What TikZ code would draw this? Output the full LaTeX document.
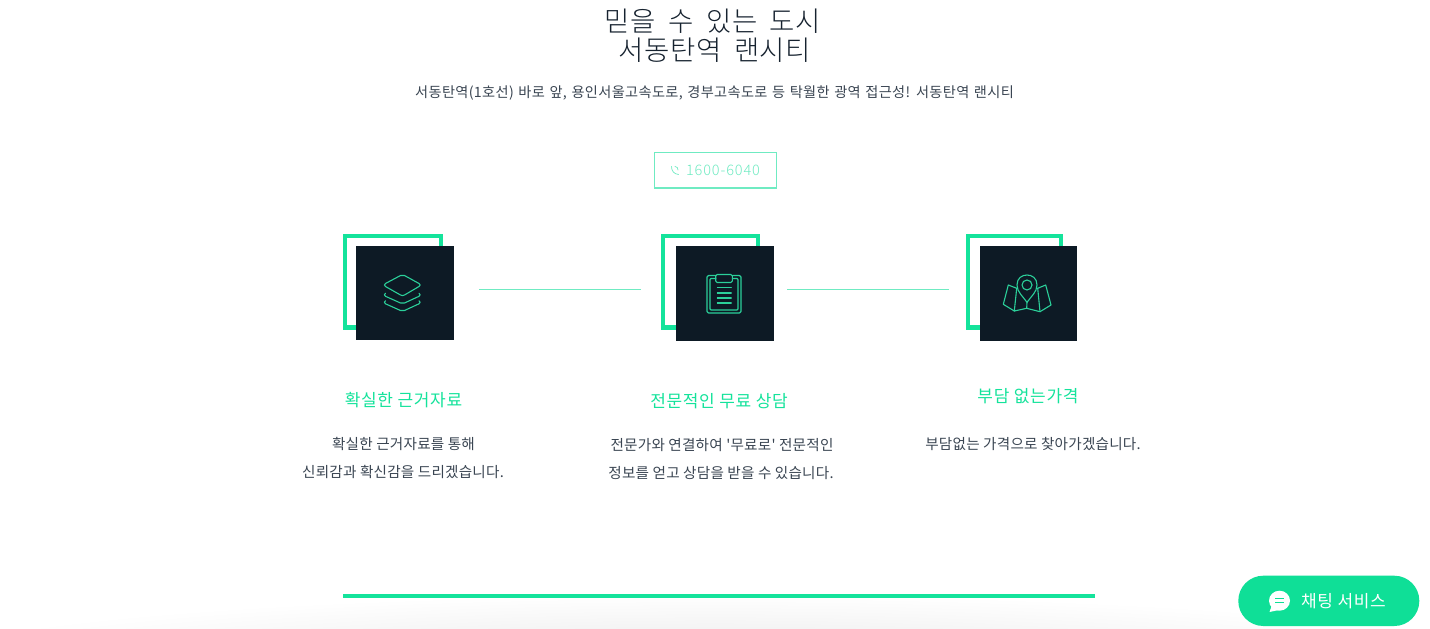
\documentclass[tikz,border=0pt]{standalone}
\usepackage{fontspec}
\setmainfont{Noto Sans CJK KR}
\newfontfamily\titlef[LetterSpace=1.8,WordSpace=1.9]{Noto Sans CJK KR Light}
\newfontfamily\subf[LetterSpace=2.5,WordSpace=1.3]{Noto Sans CJK KR}
\newfontfamily\headf[LetterSpace=4]{Noto Sans CJK KR}
\newfontfamily\bodyf[LetterSpace=1.5]{Noto Sans CJK KR}
\newfontfamily\telf[LetterSpace=6]{Noto Sans CJK KR Light}
\definecolor{mint}{HTML}{14E39B}
\definecolor{navy}{HTML}{0D1A25}
\definecolor{iconline}{HTML}{2BD09A}
\definecolor{inktext}{HTML}{16222F}
\definecolor{softtext}{HTML}{3A4552}
\definecolor{pale}{HTML}{6FEBC2}
\definecolor{chatgreen}{HTML}{0FDF97}
\newcommand{\fs}[1]{\fontsize{#1}{#1}\selectfont}
\tikzset{
  x=1pt,y=-1pt,
  frame/.style={draw=mint,line width=4.4pt,fill=white},
  darkbox/.style={fill=navy,draw=none},
  icon/.style={draw=iconline,line width=1.1pt,line join=round,line cap=round},
  linkline/.style={draw=pale,line width=1.4pt},
  txt/.style={inner sep=0pt,text=inktext,align=center},
  head/.style={txt,text=mint,font=\headf\fs{17}},
  body/.style={txt,text=softtext,font=\bodyf\fs{14.6}},
}
\begin{document}
\begin{tikzpicture}
\useasboundingbox (0,0) rectangle (1430,629);
\fill[white] (0,0) rectangle (1430,629);
\begin{scope}
\clip (0,0) rectangle (1430,629);
\shade[inner color=black!9,outer color=white] (715,664) ellipse [x radius=810,y radius=70];
\end{scope}

\node[txt,font=\titlef\fs{27.5}] (t1) at (713,21) {믿을 수 있는 도시};
\node[txt,font=\titlef\fs{27.5}] (t2) at (715,50) {서동탄역 랜시티};
\node[txt,text=softtext,font=\subf\fs{14.2}] (sub) at (714.5,93) {서동탄역(1호선) 바로 앞, 용인서울고속도로, 경부고속도로 등 탁월한 광역 접근성! 서동탄역 랜시티};

\draw[draw=pale,line width=1.3pt] (654.5,152.5) rectangle (776.5,188);
\node[txt,text=pale,font=\telf\fs{14.5}] (tel) at (723,170.5) {1600-6040};
\draw[pale,line width=0.7pt,line cap=round] (671.5,166.5) .. controls (671.5,171) and (674,174) .. (678.5,174.5) (675,166.5) .. controls (677,166.5) and (678,168) .. (678,170);

% box 1
\draw[frame] (345.2,235.7) rectangle (440.8,327.5);
\node[darkbox,minimum width=98.2pt,minimum height=94.6pt,inner sep=0pt] (b1) at (404.6,293) {};
\foreach \dy/\op in {15.5/,8/}{
  \draw[icon] (385.5,{285.3+\dy}) .. controls (384,{286.3+\dy}) and (384,{287.3+\dy}) .. (385.5,{288.3+\dy}) -- (400.5,{295+\dy}) .. controls (402,{295.8+\dy}) and (403,{295.8+\dy}) .. (404.5,{295+\dy}) -- (419,{288.3+\dy}) .. controls (420.5,{287.3+\dy}) and (420.5,{286.3+\dy}) .. (419,{285.3+\dy});
}
\draw[icon,fill=navy] (400.5,275.5) .. controls (401.8,274.8) and (403.2,274.8) .. (404.5,275.5) -- (419,283.5) .. controls (420.5,284.5) and (420.5,285.5) .. (419,286.5) -- (404.5,295) .. controls (403.2,295.8) and (401.8,295.8) .. (400.5,295) -- (385.5,286.5) .. controls (384,285.5) and (384,284.5) .. (385.5,283.5) -- cycle;

% box 2
\draw[frame] (663.2,235.7) rectangle (757.8,327.5);
\node[darkbox,minimum width=98pt,minimum height=95.3pt,inner sep=0pt] (b2) at (725.3,293.3) {};
\draw[icon,rounded corners=1.5pt] (715.7,275.5) -- (707,275.5) -- (707,313) -- (741,313) -- (741,275.5) -- (732.3,275.5);
\draw[icon,rounded corners=1pt] (715.7,278.5) -- (710,278.5) -- (710,310) -- (738,310) -- (738,278.5) -- (732.3,278.5);
\draw[icon,rounded corners=1.5pt] (715.7,274.5) rectangle (732.3,282.5);
\foreach \yy in {287.7,293,298,303}{\draw[icon] (717.3,\yy) -- (731.3,\yy);}

% box 3
\draw[frame] (968.2,235.7) rectangle (1060.8,327.5);
\node[darkbox,minimum width=97.6pt,minimum height=95.3pt,inner sep=0pt] (b3) at (1028.5,293.3) {};
\draw[icon] (1016.7,288.3) -- (1008.3,285) -- (1003.3,304.3) -- (1014.3,311) -- (1026.7,308.3) -- (1040,311.7) -- (1051,305) -- (1045.7,285) -- (1037.7,288.3);
\draw[icon] (1016.7,288.3) -- (1014.3,311);
\draw[icon] (1037.7,288.3) -- (1040,311.7);
\draw[icon] (1027,302) -- (1026.7,308.3);
\draw[icon,fill=navy] (1027,302.3) .. controls (1023,296.5) and (1017,292) .. (1017,285) .. controls (1017,278) and (1022,275) .. (1027,275) .. controls (1032,275) and (1037,278) .. (1037,285) .. controls (1037,292) and (1031,296.5) .. (1027,302.3) -- cycle;
\draw[icon] (1027,285) circle [radius=5];

% connectors
\coordinate (l1a) at (479,289.5); \coordinate (l1b) at (641,289.5);
\coordinate (l2a) at (787,289.5); \coordinate (l2b) at (949,289.5);
\path[linkline] (l1a) -- (l1b);
\path[linkline] (l2a) -- (l2b);

\node[head] (h1) at (403.5,400) {확실한 근거자료};
\node[head] (h2) at (719,401) {전문적인 무료 상담};
\node[head] (h3) at (1028,396) {부담 없는가격};
\node[body] (p1a) at (403.5,444) {확실한 근거자료를 통해};
\node[body] (p1b) at (403,472) {신뢰감과 확신감을 드리겠습니다.};
\node[body] (p2a) at (722,445) {전문가와 연결하여 '무료로' 전문적인};
\node[body] (p2b) at (721,473) {정보를 얻고 상담을 받을 수 있습니다.};
\node[body] (p3a) at (1033,444) {부담없는 가격으로 찾아가겠습니다.};

\fill[mint] (343,594) rectangle (1094.5,598.2);

\fill[chatgreen,rounded corners=25pt] (1238.3,575.7) rectangle (1419.3,626);
\fill[white] (1279.5,600.7) ellipse [x radius=10.5,y radius=10];
\fill[white] (1272,605) -- (1269.5,612) -- (1279,610) -- cycle;
\draw[chatgreen,line width=1.5pt] (1275,598.7) -- (1284,598.7) (1275,602.7) -- (1284,602.7);
\node[txt,text=white,font=\headf\fs{17}] (chat) at (1343.5,601.5) {채팅 서비스};
\end{tikzpicture}
\end{document}
